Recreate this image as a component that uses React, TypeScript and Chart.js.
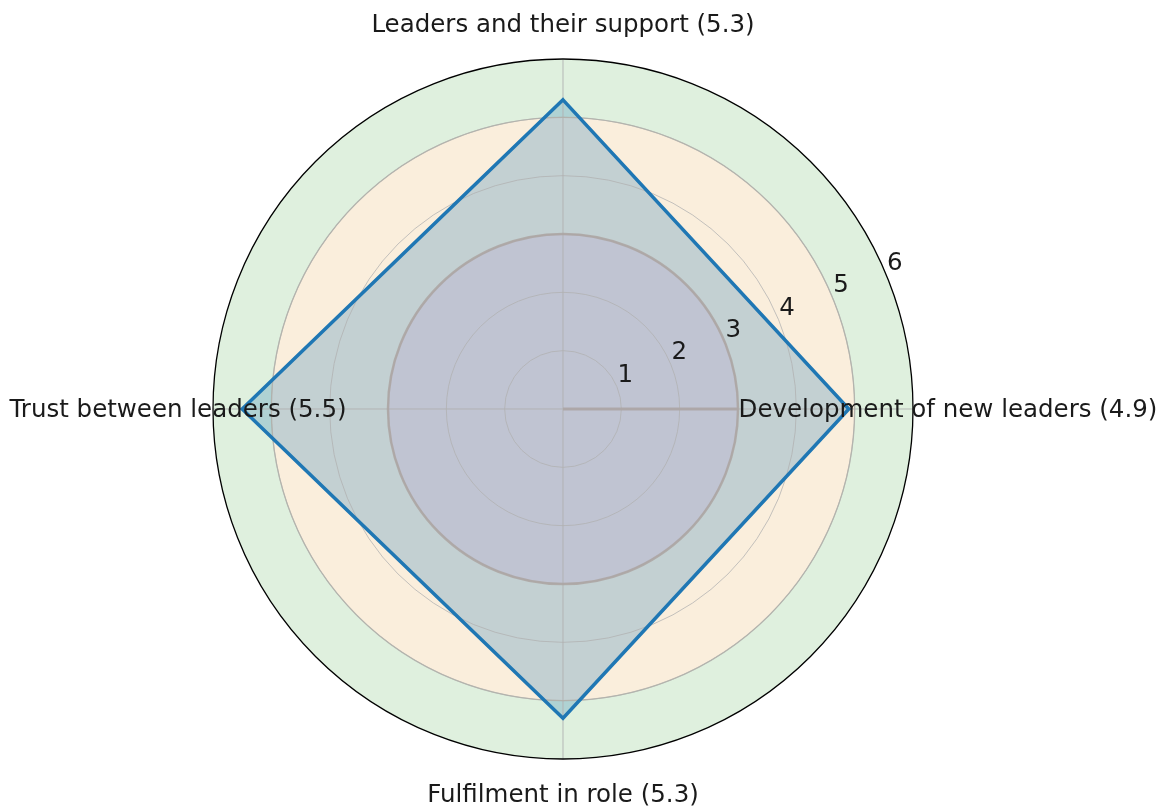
import React, { useEffect, useRef } from "react";
import { Chart, registerables } from "chart.js";

Chart.register(...registerables);

// Clockwise from the top (Chart.js radar order)
const categories = [
  "Leaders and their support",
  "Development of new leaders",
  "Fulfilment in role",
  "Trust between leaders",
];
const scores = [5.3, 4.9, 5.3, 5.5];
const radialTicks = [1, 2, 3, 4, 5, 6];
const bandLimits = [0, 3, 5, 6];
const bandColors = ["#f6dedc", "#faeedc", "#dff0de"];

const FONT = "'DejaVu Sans', sans-serif";

function ring(ctx: any, s: any, r: number, color: string, w: number) {
  ctx.beginPath();
  ctx.arc(s.xCenter, s.yCenter, r, 0, Math.PI * 2);
  ctx.strokeStyle = color;
  ctx.lineWidth = w;
  ctx.stroke();
}

const bandsPlugin = {
  id: "bands",
  beforeDatasetsDraw(chart: any) {
    const s = chart.scales.r;
    const ctx = chart.ctx;
    ctx.save();
    for (let i = bandColors.length - 1; i >= 0; i--) {
      const r1 = s.getDistanceFromCenterForValue(bandLimits[i + 1]);
      ctx.beginPath();
      ctx.arc(s.xCenter, s.yCenter, r1, 0, Math.PI * 2);
      ctx.fillStyle = bandColors[i];
      ctx.fill();
    }
    ctx.restore();
  },
  afterDatasetDraw(chart: any, args: any) {
    if (args.index !== 0) return;
    const s = chart.scales.r;
    const ctx = chart.ctx;
    ctx.save();
    const outer = s.getDistanceFromCenterForValue(6);
    ctx.strokeStyle = "rgba(176,176,176,0.9)";
    ctx.lineWidth = 1;
    categories.forEach((_, i) => {
      const p = s.getPointPosition(i, outer);
      ctx.beginPath();
      ctx.moveTo(s.xCenter, s.yCenter);
      ctx.lineTo(p.x, p.y);
      ctx.stroke();
    });
    radialTicks.forEach((t) => {
      if (t === 6) return;
      ring(ctx, s, s.getDistanceFromCenterForValue(t), "rgba(176,176,176,0.75)", 1);
    });
    const r3 = s.getDistanceFromCenterForValue(bandLimits[1]);
    const r5 = s.getDistanceFromCenterForValue(bandLimits[2]);
    ring(ctx, s, r3, "rgba(172,165,162,0.85)", 2.5);
    ctx.beginPath();
    ctx.moveTo(s.xCenter, s.yCenter);
    ctx.lineTo(s.xCenter + r3, s.yCenter);
    ctx.strokeStyle = "rgba(172,165,165,0.9)";
    ctx.lineWidth = 3;
    ctx.stroke();
    ring(ctx, s, r5, "rgba(176,176,170,0.85)", 1.3);
    ring(ctx, s, outer, "#000", 1.3);
    ctx.restore();
  },
  afterDatasetsDraw(chart: any) {
    const s = chart.scales.r;
    const ctx = chart.ctx;
    ctx.save();
    ctx.fillStyle = "#1a1a1a";
    ctx.font = `24.5px ${FONT}`;
    ctx.textAlign = "center";
    ctx.textBaseline = "middle";
    const ang = (22.5 * Math.PI) / 180;
    radialTicks.forEach((t) => {
      const d = s.getDistanceFromCenterForValue(t);
      const x = s.xCenter + d * Math.cos(ang) + 8.5;
      const y = s.yCenter - d * Math.sin(ang) - 11.5;
      ctx.fillText(String(t), x, y);
    });
    categories.forEach((c, i) => {
      const p = s.getPointPosition(i, s.drawingArea + 35);
      ctx.fillText(`${c} (${scores[i]})`, p.x, p.y + 2);
    });
    ctx.restore();
  },
};

export default function App() {
  const ref = useRef<HTMLCanvasElement>(null);
  useEffect(() => {
    if (!ref.current) return;
    const chart = new Chart(ref.current, {
      type: "radar",
      data: {
        labels: categories,
        datasets: [
          {
            data: scores,
            borderWidth: 0,
            borderColor: "rgba(0,0,0,0)",
            backgroundColor: "rgba(31,119,180,0.25)",
            pointRadius: 0,
            fill: true,
            order: 2,
          },
          {
            data: scores,
            borderColor: "#1f77b4",
            backgroundColor: "rgba(0,0,0,0)",
            borderWidth: 3.5,
            borderJoinStyle: "miter",
            pointRadius: 0,
            fill: false,
            order: 1,
          },
        ],
      },
      options: {
        responsive: false,
        animation: false,
        devicePixelRatio: 1,
        layout: { padding: { left: 213, right: 250, top: 59, bottom: 51 } },
        plugins: { legend: { display: false }, tooltip: { enabled: false } },
        scales: {
          r: {
            min: 0,
            max: 6,
            ticks: { display: false, stepSize: 1 },
            pointLabels: { display: false },
            grid: { display: false },
            angleLines: { display: false },
          },
        },
      },
      plugins: [bandsPlugin],
    });
    return () => chart.destroy();
  }, []);
  return (
    <div style={{ position: "absolute", left: 0, top: 0, width: 1163, height: 810, background: "#fff" }}>
      <canvas ref={ref} width={1163} height={810} />
    </div>
  );
}
